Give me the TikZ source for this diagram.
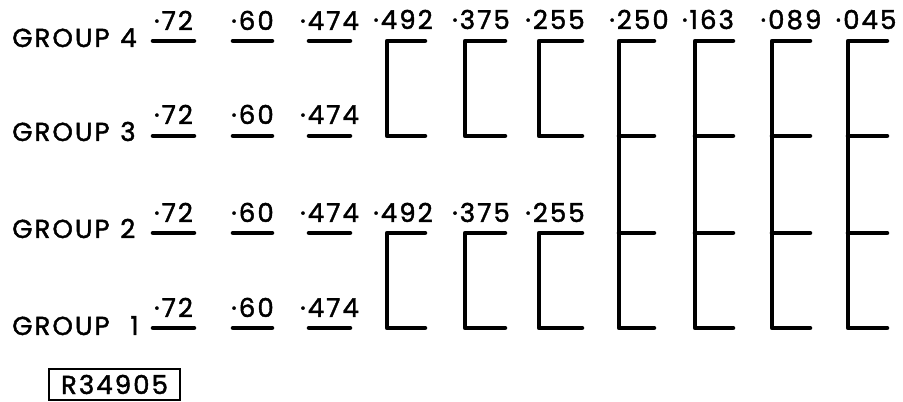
\documentclass[tikz,border=0pt]{standalone}
\usepackage{fontspec}
\newfontfamily\grpfont[LetterSpace=8,FakeBold=1.6]{Poppins}
\begin{document}
\begin{tikzpicture}[x=0.75pt,y=-0.75pt,
  bar/.style={line width=3.4pt,line cap=round,line join=round},
  val/.style={font=\grpfont\fontsize{19.5}{22}\selectfont,inner sep=0pt,anchor=base}]
\useasboundingbox (0,0) rectangle (903,402);
% group labels
\foreach \g/\y/\nx in {4/47/120,3/141/120,2/238/120,1/335/130}{
  \node[val,anchor=base west] (grp\g) at (12,\y) {GROUP};
  \node[val,anchor=base west] (num\g) at (\nx,\y) {\g};}
% short bars
\foreach \g/\y/\t in {4/41/30,3/136/124,2/233/222,1/328/317}{
  \foreach \xa/\xb/\v in {153/194/72,233/272/60,309/350/474}{
    \draw[bar] (\xa,\y) -- (\xb,\y);
    \node[val] (v\g-\v) at ({(\xa+\xb)/2},\t) {·\v};}}
% open brackets
\foreach \xa/\xb/\v in {387/425/492,465/505/375,539/582/255}{
  \draw[bar] (\xb,41) -- (\xa,41) -- (\xa,136) -- (\xb,136);
  \draw[bar] (\xb,233) -- (\xa,233) -- (\xa,328) -- (\xb,328);
  \node[val] (u\v) at (\xa+16,29) {·\v};
  \node[val] (l\v) at (\xa+16,222) {·\v};}
% combs spanning all groups
\foreach \xa/\xb/\dx/\v in {619/654/20/250,695/733/13/163,772/810/19/089,848/887/18/045}{
  \draw[bar] (\xb,41) -- (\xa,41) -- (\xa,328) -- (\xb,328);
  \draw[bar] (\xa,136) -- (\xb,136);
  \draw[bar] (\xa,233) -- (\xb,233);
  \node[val] (c\v) at (\xa+\dx,29) {·\v};}
\node[val,anchor=center,draw,line width=1.6pt,minimum width=98pt,minimum height=23pt] (ref) at (114.5,384.5) {R34905};
\end{tikzpicture}
\end{document}
